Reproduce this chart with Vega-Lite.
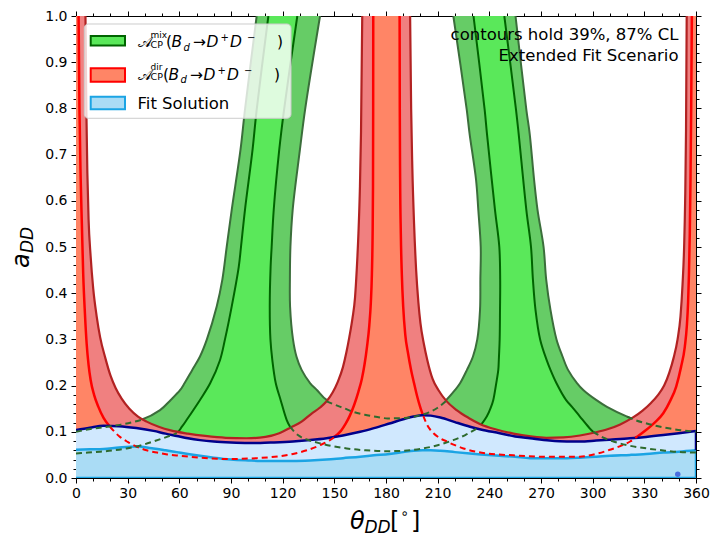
{
  "$schema": "https://vega.github.io/schema/vega-lite/v6.json",
  "width": 620,
  "height": 462,
  "autosize": "none",
  "padding": {"left": 76, "top": 16, "right": 25, "bottom": 67},
  "data": {"values": [{}]},
  "config": {
    "view": {"stroke": null},
    "text": {"font": "DejaVu Sans", "color": "black"},
    "axis": {"domainColor": "black", "tickColor": "black", "labelColor": "black", "labelFont": "DejaVu Sans", "labelFontSize": 14, "grid": false, "zindex": 1, "domainWidth": 1, "tickWidth": 1}
  },
  "resolve": {"axis": {"x": "independent", "y": "independent"}},
  "datasets": {
    "gOuter": [
      {"band": 1, "a": 0.08, "l": 0, "r": 165},
      {"band": 1, "a": 0.1, "l": 0, "r": 165},
      {"band": 1, "a": 0.107, "l": 10, "r": 165},
      {"band": 1, "a": 0.115, "l": 25.5, "r": 165},
      {"band": 1, "a": 0.126, "l": 38, "r": 165},
      {"band": 1, "a": 0.147, "l": 48.8, "r": 160},
      {"band": 1, "a": 0.169, "l": 55, "r": 145.5},
      {"band": 1, "a": 0.19, "l": 60.4, "r": 140},
      {"band": 1, "a": 0.205, "l": 63, "r": 136},
      {"band": 1, "a": 0.234, "l": 67.5, "r": 131},
      {"band": 1, "a": 0.263, "l": 72, "r": 128},
      {"band": 1, "a": 0.3, "l": 76, "r": 126},
      {"band": 1, "a": 0.371, "l": 81.7, "r": 124.3},
      {"band": 1, "a": 0.43, "l": 85, "r": 124.2},
      {"band": 1, "a": 0.5, "l": 87.5, "r": 124.5},
      {"band": 1, "a": 0.58, "l": 90.4, "r": 125.8},
      {"band": 1, "a": 0.71, "l": 95.5, "r": 130},
      {"band": 1, "a": 0.797, "l": 98.1, "r": 133},
      {"band": 1, "a": 1.0, "l": 104.9, "r": 141.7},
      {"band": 2, "a": 0.08, "l": 195, "r": 360},
      {"band": 2, "a": 0.1, "l": 195, "r": 358.6},
      {"band": 2, "a": 0.107, "l": 196, "r": 345},
      {"band": 2, "a": 0.118, "l": 197, "r": 331.4},
      {"band": 2, "a": 0.133, "l": 199, "r": 320},
      {"band": 2, "a": 0.154, "l": 210, "r": 308.3},
      {"band": 2, "a": 0.169, "l": 215, "r": 302},
      {"band": 2, "a": 0.19, "l": 220, "r": 294.7},
      {"band": 2, "a": 0.205, "l": 223, "r": 291},
      {"band": 2, "a": 0.234, "l": 227, "r": 285.7},
      {"band": 2, "a": 0.263, "l": 230.5, "r": 282.5},
      {"band": 2, "a": 0.3, "l": 233, "r": 279},
      {"band": 2, "a": 0.364, "l": 234.6, "r": 275.5},
      {"band": 2, "a": 0.43, "l": 234.8, "r": 273},
      {"band": 2, "a": 0.5, "l": 235, "r": 271.5},
      {"band": 2, "a": 0.58, "l": 233.6, "r": 268},
      {"band": 2, "a": 0.645, "l": 232.3, "r": 266},
      {"band": 2, "a": 0.746, "l": 228.5, "r": 263.4},
      {"band": 2, "a": 0.797, "l": 226.9, "r": 261.5},
      {"band": 2, "a": 1.0, "l": 219.1, "r": 255.2}
    ],
    "gInner": [
      {"band": 1, "a": 0.06, "l": 20, "r": 160},
      {"band": 1, "a": 0.079, "l": 44.9, "r": 141.7},
      {"band": 1, "a": 0.089, "l": 53, "r": 130},
      {"band": 1, "a": 0.097, "l": 58.5, "r": 127},
      {"band": 1, "a": 0.111, "l": 61.5, "r": 124.3},
      {"band": 1, "a": 0.126, "l": 64.3, "r": 122.3},
      {"band": 1, "a": 0.169, "l": 72, "r": 118.8},
      {"band": 1, "a": 0.205, "l": 77.9, "r": 116},
      {"band": 1, "a": 0.255, "l": 83.6, "r": 114},
      {"band": 1, "a": 0.3, "l": 86.5, "r": 112.9},
      {"band": 1, "a": 0.371, "l": 90.4, "r": 112.5},
      {"band": 1, "a": 0.457, "l": 94.5, "r": 113},
      {"band": 1, "a": 0.5, "l": 95.8, "r": 113.6},
      {"band": 1, "a": 0.58, "l": 98.1, "r": 114.8},
      {"band": 1, "a": 0.71, "l": 102.5, "r": 118},
      {"band": 1, "a": 0.797, "l": 104.9, "r": 120.8},
      {"band": 1, "a": 1.0, "l": 111.7, "r": 128.5},
      {"band": 2, "a": 0.05, "l": 200, "r": 360},
      {"band": 2, "a": 0.064, "l": 200, "r": 331.4},
      {"band": 2, "a": 0.079, "l": 219, "r": 312},
      {"band": 2, "a": 0.1, "l": 229, "r": 300.3},
      {"band": 2, "a": 0.111, "l": 234, "r": 297.5},
      {"band": 2, "a": 0.133, "l": 238.5, "r": 292.6},
      {"band": 2, "a": 0.154, "l": 241, "r": 288},
      {"band": 2, "a": 0.169, "l": 242.3, "r": 284.5},
      {"band": 2, "a": 0.205, "l": 244, "r": 279},
      {"band": 2, "a": 0.234, "l": 245.2, "r": 275.5},
      {"band": 2, "a": 0.255, "l": 245.5, "r": 273.3},
      {"band": 2, "a": 0.3, "l": 246, "r": 269.5},
      {"band": 2, "a": 0.364, "l": 246.2, "r": 266.8},
      {"band": 2, "a": 0.43, "l": 246.3, "r": 265.3},
      {"band": 2, "a": 0.5, "l": 245.8, "r": 264.2},
      {"band": 2, "a": 0.58, "l": 243.3, "r": 261.5},
      {"band": 2, "a": 0.746, "l": 238.6, "r": 257},
      {"band": 2, "a": 0.797, "l": 237.3, "r": 255.5},
      {"band": 2, "a": 1.0, "l": 230.8, "r": 248.7}
    ],
    "redOuter": [
      {"x": 0, "f": 1, "seg": "p"},
      {"x": 5.5, "f": 1, "seg": "u1"}, {"x": 6.0, "f": 0.8, "seg": "u1"}, {"x": 6.6, "f": 0.66, "seg": "u1"},
      {"x": 7.3, "f": 0.56, "seg": "u1"}, {"x": 8.5, "f": 0.48, "seg": "u1"}, {"x": 10, "f": 0.41, "seg": "u1"},
      {"x": 12, "f": 0.35, "seg": "u1"}, {"x": 14, "f": 0.305, "seg": "u1"}, {"x": 17, "f": 0.26, "seg": "u1"},
      {"x": 20, "f": 0.222, "seg": "u1"}, {"x": 23, "f": 0.195, "seg": "u1"}, {"x": 26.5, "f": 0.172, "seg": "u1"},
      {"x": 31, "f": 0.15, "seg": "u1"}, {"x": 36, "f": 0.133, "seg": "u1"}, {"x": 41, "f": 0.122, "seg": "u1"},
      {"x": 48, "f": 0.111, "seg": "u1"}, {"x": 55, "f": 0.103, "seg": "u1"}, {"x": 65, "f": 0.096, "seg": "u1"},
      {"x": 75, "f": 0.091, "seg": "u1"}, {"x": 87, "f": 0.087, "seg": "u1"}, {"x": 99, "f": 0.086, "seg": "u1"},
      {"x": 110, "f": 0.089, "seg": "u1"}, {"x": 118, "f": 0.097, "seg": "u1"}, {"x": 125, "f": 0.11, "seg": "u1"},
      {"x": 131, "f": 0.122, "seg": "u1"}, {"x": 137, "f": 0.14, "seg": "u1"}, {"x": 141.5, "f": 0.152, "seg": "u1"},
      {"x": 145.5, "f": 0.166, "seg": "u1"}, {"x": 149, "f": 0.185, "seg": "u1"}, {"x": 152, "f": 0.208, "seg": "u1"},
      {"x": 155, "f": 0.24, "seg": "u1"}, {"x": 157, "f": 0.272, "seg": "u1"}, {"x": 158.7, "f": 0.305, "seg": "u1"},
      {"x": 160.5, "f": 0.345, "seg": "u1"}, {"x": 162, "f": 0.39, "seg": "u1"}, {"x": 163, "f": 0.45, "seg": "u1"},
      {"x": 164, "f": 0.53, "seg": "u1"}, {"x": 164.8, "f": 0.62, "seg": "u1"}, {"x": 165.5, "f": 0.75, "seg": "u1"},
      {"x": 166.2, "f": 1, "seg": "u1"},
      {"x": 194, "f": 1, "seg": "u2"}, {"x": 194.6, "f": 0.8, "seg": "u2"}, {"x": 195.3, "f": 0.67, "seg": "u2"},
      {"x": 196.3, "f": 0.55, "seg": "u2"}, {"x": 197.5, "f": 0.45, "seg": "u2"}, {"x": 198.8, "f": 0.38, "seg": "u2"},
      {"x": 200, "f": 0.335, "seg": "u2"}, {"x": 202, "f": 0.29, "seg": "u2"}, {"x": 204, "f": 0.255, "seg": "u2"},
      {"x": 207, "f": 0.215, "seg": "u2"}, {"x": 210.5, "f": 0.19, "seg": "u2"}, {"x": 215, "f": 0.167, "seg": "u2"},
      {"x": 221, "f": 0.147, "seg": "u2"}, {"x": 228, "f": 0.13, "seg": "u2"}, {"x": 234.5, "f": 0.117, "seg": "u2"},
      {"x": 244, "f": 0.105, "seg": "u2"}, {"x": 254, "f": 0.096, "seg": "u2"}, {"x": 264, "f": 0.09, "seg": "u2"},
      {"x": 273, "f": 0.087, "seg": "u2"}, {"x": 283, "f": 0.088, "seg": "u2"}, {"x": 292.6, "f": 0.092, "seg": "u2"},
      {"x": 302, "f": 0.099, "seg": "u2"}, {"x": 309, "f": 0.106, "seg": "u2"}, {"x": 316, "f": 0.116, "seg": "u2"},
      {"x": 323, "f": 0.13, "seg": "u2"}, {"x": 329, "f": 0.146, "seg": "u2"}, {"x": 334, "f": 0.163, "seg": "u2"},
      {"x": 338, "f": 0.18, "seg": "u2"}, {"x": 341.5, "f": 0.2, "seg": "u2"}, {"x": 344.5, "f": 0.228, "seg": "u2"},
      {"x": 347, "f": 0.26, "seg": "u2"}, {"x": 349.3, "f": 0.3, "seg": "u2"}, {"x": 351, "f": 0.35, "seg": "u2"},
      {"x": 352.2, "f": 0.42, "seg": "u2"}, {"x": 353.1, "f": 0.5, "seg": "u2"}, {"x": 353.7, "f": 0.6, "seg": "u2"},
      {"x": 354.2, "f": 0.75, "seg": "u2"}, {"x": 354.6, "f": 1, "seg": "u2"},
      {"x": 360, "f": 1, "seg": "p"}
    ],
    "redInner": [
      {"x": 0, "g": 1, "seg": "p"},
      {"x": 1.5, "g": 1, "seg": "i1"}, {"x": 2.0, "g": 0.8, "seg": "i1"}, {"x": 2.7, "g": 0.65, "seg": "i1"},
      {"x": 3.4, "g": 0.55, "seg": "i1"}, {"x": 4.2, "g": 0.44, "seg": "i1"}, {"x": 5.2, "g": 0.355, "seg": "i1"},
      {"x": 6.2, "g": 0.29, "seg": "i1"}, {"x": 7.3, "g": 0.245, "seg": "i1"}, {"x": 8.5, "g": 0.212, "seg": "i1"},
      {"x": 10.5, "g": 0.18, "seg": "i1"}, {"x": 13, "g": 0.154, "seg": "i1"}, {"x": 16, "g": 0.13, "seg": "i1"},
      {"x": 19.7, "g": 0.111, "seg": "i1"}, {"x": 25.5, "g": 0.089, "seg": "i1"}, {"x": 30, "g": 0.078, "seg": "i1"},
      {"x": 35.2, "g": 0.068, "seg": "i1"}, {"x": 41, "g": 0.06, "seg": "i1"}, {"x": 47, "g": 0.055, "seg": "i1"},
      {"x": 53, "g": 0.051, "seg": "i1"}, {"x": 60.4, "g": 0.048, "seg": "i1"}, {"x": 72, "g": 0.044, "seg": "i1"},
      {"x": 89.4, "g": 0.041, "seg": "i1"}, {"x": 105, "g": 0.043, "seg": "i1"}, {"x": 118, "g": 0.047, "seg": "i1"},
      {"x": 126, "g": 0.052, "seg": "i1"}, {"x": 134, "g": 0.06, "seg": "i1"}, {"x": 141.7, "g": 0.071, "seg": "i1"},
      {"x": 147, "g": 0.081, "seg": "i1"}, {"x": 151.4, "g": 0.093, "seg": "i1"}, {"x": 154, "g": 0.103, "seg": "i1"},
      {"x": 156.5, "g": 0.117, "seg": "i1"}, {"x": 159, "g": 0.135, "seg": "i1"}, {"x": 161.5, "g": 0.158, "seg": "i1"},
      {"x": 164, "g": 0.187, "seg": "i1"}, {"x": 166, "g": 0.215, "seg": "i1"}, {"x": 167.5, "g": 0.245, "seg": "i1"},
      {"x": 169, "g": 0.285, "seg": "i1"}, {"x": 170.3, "g": 0.33, "seg": "i1"}, {"x": 171.2, "g": 0.38, "seg": "i1"},
      {"x": 171.8, "g": 0.44, "seg": "i1"}, {"x": 172.2, "g": 0.52, "seg": "i1"}, {"x": 172.45, "g": 0.63, "seg": "i1"},
      {"x": 172.55, "g": 0.8, "seg": "i1"}, {"x": 172.6, "g": 1, "seg": "i1"},
      {"x": 187.9, "g": 1, "seg": "i2"}, {"x": 188.0, "g": 0.8, "seg": "i2"}, {"x": 188.2, "g": 0.65, "seg": "i2"},
      {"x": 188.6, "g": 0.53, "seg": "i2"}, {"x": 189.2, "g": 0.44, "seg": "i2"}, {"x": 190, "g": 0.37, "seg": "i2"},
      {"x": 191.2, "g": 0.31, "seg": "i2"}, {"x": 192.8, "g": 0.27, "seg": "i2"}, {"x": 194.5, "g": 0.235, "seg": "i2"},
      {"x": 196.3, "g": 0.205, "seg": "i2"}, {"x": 198, "g": 0.178, "seg": "i2"}, {"x": 200, "g": 0.152, "seg": "i2"},
      {"x": 201.7, "g": 0.134, "seg": "i2"}, {"x": 204, "g": 0.114, "seg": "i2"}, {"x": 207.6, "g": 0.097, "seg": "i2"},
      {"x": 211, "g": 0.087, "seg": "i2"}, {"x": 215.3, "g": 0.079, "seg": "i2"}, {"x": 220, "g": 0.071, "seg": "i2"},
      {"x": 225, "g": 0.064, "seg": "i2"}, {"x": 232, "g": 0.057, "seg": "i2"}, {"x": 239, "g": 0.053, "seg": "i2"},
      {"x": 254, "g": 0.049, "seg": "i2"}, {"x": 273, "g": 0.046, "seg": "i2"}, {"x": 292.6, "g": 0.046, "seg": "i2"},
      {"x": 297, "g": 0.048, "seg": "i2"}, {"x": 303, "g": 0.053, "seg": "i2"}, {"x": 310, "g": 0.061, "seg": "i2"},
      {"x": 316, "g": 0.069, "seg": "i2"}, {"x": 321.7, "g": 0.079, "seg": "i2"}, {"x": 326, "g": 0.09, "seg": "i2"},
      {"x": 331, "g": 0.104, "seg": "i2"}, {"x": 336, "g": 0.12, "seg": "i2"}, {"x": 341, "g": 0.14, "seg": "i2"},
      {"x": 345, "g": 0.167, "seg": "i2"}, {"x": 348.5, "g": 0.198, "seg": "i2"}, {"x": 351.3, "g": 0.24, "seg": "i2"},
      {"x": 353.5, "g": 0.284, "seg": "i2"}, {"x": 354.7, "g": 0.33, "seg": "i2"}, {"x": 355.4, "g": 0.38, "seg": "i2"},
      {"x": 355.9, "g": 0.44, "seg": "i2"}, {"x": 356.4, "g": 0.53, "seg": "i2"}, {"x": 356.8, "g": 0.645, "seg": "i2"},
      {"x": 357.2, "g": 0.8, "seg": "i2"}, {"x": 357.6, "g": 1, "seg": "i2"},
      {"x": 360, "g": 1, "seg": "p"}
    ],
    "fit": [
      {"x": 0, "hi": 0.104, "lo": 0.061}, {"x": 8, "hi": 0.109, "lo": 0.062}, {"x": 16, "hi": 0.113, "lo": 0.063},
      {"x": 25, "hi": 0.112, "lo": 0.066}, {"x": 35, "hi": 0.108, "lo": 0.068}, {"x": 45, "hi": 0.102, "lo": 0.064},
      {"x": 52, "hi": 0.096, "lo": 0.06}, {"x": 58.5, "hi": 0.091, "lo": 0.056}, {"x": 65, "hi": 0.086, "lo": 0.052},
      {"x": 72, "hi": 0.082, "lo": 0.048}, {"x": 80, "hi": 0.079, "lo": 0.044}, {"x": 90, "hi": 0.077, "lo": 0.04},
      {"x": 100, "hi": 0.076, "lo": 0.038}, {"x": 107, "hi": 0.076, "lo": 0.037}, {"x": 115, "hi": 0.077, "lo": 0.037},
      {"x": 126, "hi": 0.079, "lo": 0.037}, {"x": 136, "hi": 0.082, "lo": 0.038}, {"x": 145.5, "hi": 0.086, "lo": 0.04},
      {"x": 155, "hi": 0.092, "lo": 0.043}, {"x": 165, "hi": 0.1, "lo": 0.046}, {"x": 173, "hi": 0.108, "lo": 0.049},
      {"x": 182, "hi": 0.118, "lo": 0.052}, {"x": 190, "hi": 0.127, "lo": 0.056}, {"x": 196, "hi": 0.133, "lo": 0.059},
      {"x": 201, "hi": 0.136, "lo": 0.06}, {"x": 206, "hi": 0.135, "lo": 0.06}, {"x": 211.6, "hi": 0.131, "lo": 0.059},
      {"x": 220, "hi": 0.121, "lo": 0.056}, {"x": 228.8, "hi": 0.111, "lo": 0.053}, {"x": 235, "hi": 0.105, "lo": 0.051},
      {"x": 246, "hi": 0.097, "lo": 0.048}, {"x": 255, "hi": 0.09, "lo": 0.046}, {"x": 263.6, "hi": 0.086, "lo": 0.043},
      {"x": 275, "hi": 0.081, "lo": 0.043}, {"x": 285, "hi": 0.079, "lo": 0.043}, {"x": 292.6, "hi": 0.079, "lo": 0.044},
      {"x": 302, "hi": 0.081, "lo": 0.046}, {"x": 310, "hi": 0.083, "lo": 0.048}, {"x": 321.7, "hi": 0.086, "lo": 0.05},
      {"x": 331, "hi": 0.089, "lo": 0.052}, {"x": 341, "hi": 0.093, "lo": 0.055}, {"x": 350, "hi": 0.097, "lo": 0.057},
      {"x": 360, "hi": 0.102, "lo": 0.06}
    ],
    "gDash": [
      {"seg": "A", "x": 0, "a": 0.1}, {"seg": "A", "x": 10, "a": 0.107}, {"seg": "A", "x": 18, "a": 0.111},
      {"seg": "A", "x": 25.5, "a": 0.115}, {"seg": "A", "x": 32, "a": 0.12}, {"seg": "A", "x": 38, "a": 0.126},
      {"seg": "B", "x": 0, "a": 0.053}, {"seg": "B", "x": 7, "a": 0.055}, {"seg": "B", "x": 13.9, "a": 0.057},
      {"seg": "B", "x": 22, "a": 0.06}, {"seg": "B", "x": 29.4, "a": 0.064}, {"seg": "B", "x": 37, "a": 0.07},
      {"seg": "B", "x": 44.9, "a": 0.079}, {"seg": "B", "x": 52, "a": 0.088}, {"seg": "B", "x": 58.5, "a": 0.097},
      {"seg": "C", "x": 145.5, "a": 0.166}, {"seg": "C", "x": 150, "a": 0.159}, {"seg": "C", "x": 155, "a": 0.152},
      {"seg": "C", "x": 161, "a": 0.143}, {"seg": "C", "x": 169, "a": 0.136}, {"seg": "C", "x": 175, "a": 0.132},
      {"seg": "C", "x": 181, "a": 0.129}, {"seg": "C", "x": 191, "a": 0.13}, {"seg": "C", "x": 200, "a": 0.136},
      {"seg": "C", "x": 205, "a": 0.142}, {"seg": "C", "x": 210, "a": 0.152}, {"seg": "C", "x": 215, "a": 0.167},
      {"seg": "D", "x": 124.3, "a": 0.111}, {"seg": "D", "x": 127, "a": 0.099}, {"seg": "D", "x": 130, "a": 0.09},
      {"seg": "D", "x": 135, "a": 0.082}, {"seg": "D", "x": 141.7, "a": 0.075}, {"seg": "D", "x": 149, "a": 0.069},
      {"seg": "D", "x": 157.2, "a": 0.064}, {"seg": "D", "x": 168, "a": 0.06}, {"seg": "D", "x": 180.4, "a": 0.058},
      {"seg": "D", "x": 190, "a": 0.059}, {"seg": "D", "x": 200, "a": 0.063}, {"seg": "D", "x": 210, "a": 0.071},
      {"seg": "D", "x": 219, "a": 0.082}, {"seg": "D", "x": 226, "a": 0.093}, {"seg": "D", "x": 232.7, "a": 0.107},
      {"seg": "E", "x": 320, "a": 0.133}, {"seg": "E", "x": 325, "a": 0.125}, {"seg": "E", "x": 331.4, "a": 0.118},
      {"seg": "E", "x": 338, "a": 0.112}, {"seg": "E", "x": 345, "a": 0.107}, {"seg": "E", "x": 352, "a": 0.103},
      {"seg": "E", "x": 360, "a": 0.1},
      {"seg": "F", "x": 300.3, "a": 0.1}, {"seg": "F", "x": 303, "a": 0.094}, {"seg": "F", "x": 307, "a": 0.086},
      {"seg": "F", "x": 312, "a": 0.079}, {"seg": "F", "x": 320, "a": 0.071}, {"seg": "F", "x": 331.4, "a": 0.064},
      {"seg": "F", "x": 340, "a": 0.06}, {"seg": "F", "x": 347, "a": 0.057}, {"seg": "F", "x": 360, "a": 0.055}
    ],
    "best": [{"x": 349.4, "a": 0.008}]
  },
  "layer": [
    {
      "data": {"name": "gOuter"},
      "mark": {"type": "area", "orient": "horizontal", "fill": "#66cc66", "interpolate": "catmull-rom", "clip": true},
      "encoding": {
        "y": {"field": "a", "type": "quantitative", "scale": {"domain": [0, 1], "nice": false}, "axis": null},
        "x": {"field": "l", "type": "quantitative", "scale": {"domain": [0, 360], "nice": false}, "axis": null},
        "x2": {"field": "r"},
        "detail": {"field": "band"}
      }
    },
    {
      "data": {"name": "gOuter"},
      "transform": [{"fold": ["l", "r"], "as": ["side", "xv"]}],
      "mark": {"type": "line", "color": "#3b6e3b", "strokeWidth": 2, "interpolate": "catmull-rom", "clip": true},
      "encoding": {
        "x": {"field": "xv", "type": "quantitative", "axis": null},
        "y": {"field": "a", "type": "quantitative", "axis": null},
        "detail": [{"field": "band"}, {"field": "side"}],
        "order": {"field": "a"}
      }
    },
    {
      "data": {"name": "gInner"},
      "mark": {"type": "area", "orient": "horizontal", "fill": "#5ae85a", "interpolate": "catmull-rom", "clip": true},
      "encoding": {
        "y": {"field": "a", "type": "quantitative", "axis": null},
        "x": {"field": "l", "type": "quantitative", "axis": null},
        "x2": {"field": "r"},
        "detail": {"field": "band"}
      }
    },
    {
      "data": {"name": "gInner"},
      "transform": [{"fold": ["l", "r"], "as": ["side", "xv"]}],
      "mark": {"type": "line", "color": "#006400", "strokeWidth": 2, "interpolate": "catmull-rom", "clip": true},
      "encoding": {
        "x": {"field": "xv", "type": "quantitative", "axis": null},
        "y": {"field": "a", "type": "quantitative", "axis": null},
        "detail": [{"field": "band"}, {"field": "side"}],
        "order": {"field": "a"}
      }
    },
    {
      "data": {"name": "redOuter"},
      "mark": {"type": "area", "fill": "#f08080", "interpolate": "monotone", "clip": true},
      "encoding": {
        "x": {"field": "x", "type": "quantitative", "axis": {"orient": "bottom", "values": [0, 30, 60, 90, 120, 150, 180, 210, 240, 270, 300, 330, 360], "title": null, "tickSize": 5, "labelPadding": 3, "labelFlush": false, "labelOverlap": false, "labelBound": false}},
        "y": {"field": "f", "type": "quantitative", "axis": {"orient": "left", "values": [0, 0.1, 0.2, 0.3, 0.4, 0.5, 0.6, 0.7, 0.8, 0.9, 1], "format": ".1f", "title": null, "tickSize": 5, "labelPadding": 4, "labelFlush": false, "labelOverlap": false}}
      }
    },
    {
      "data": {"name": "redOuter"},
      "transform": [{"filter": "datum.seg != 'p'"}],
      "mark": {"type": "line", "color": "#b22222", "strokeWidth": 2.2, "interpolate": "monotone", "clip": true},
      "encoding": {
        "x": {"field": "x", "type": "quantitative", "axis": null},
        "y": {"field": "f", "type": "quantitative", "axis": null},
        "detail": {"field": "seg"}
      }
    },
    {
      "data": {"name": "redInner"},
      "mark": {"type": "area", "fill": "#ff8566", "interpolate": "monotone", "clip": true},
      "encoding": {
        "x": {"field": "x", "type": "quantitative", "axis": {"orient": "bottom", "values": [10, 20, 40, 50, 70, 80, 100, 110, 130, 140, 160, 170, 190, 200, 220, 230, 250, 260, 280, 290, 310, 320, 340, 350], "title": null, "tickSize": 3, "labels": false, "domain": false}},
        "y": {"field": "g", "type": "quantitative", "axis": {"orient": "left", "values": [0.02, 0.04, 0.06, 0.08, 0.12, 0.14, 0.16, 0.18, 0.22, 0.24, 0.26, 0.28, 0.32, 0.34, 0.36, 0.38, 0.42, 0.44, 0.46, 0.48, 0.52, 0.54, 0.56, 0.58, 0.62, 0.64, 0.66, 0.68, 0.72, 0.74, 0.76, 0.78, 0.82, 0.84, 0.86, 0.88, 0.92, 0.94, 0.96, 0.98], "title": null, "tickSize": 3, "labels": false, "domain": false}}
      }
    },
    {
      "data": {"name": "redInner"},
      "transform": [{"filter": "datum.seg != 'p'"}],
      "mark": {"type": "line", "color": "#ff0000", "strokeWidth": 2.5, "interpolate": "monotone", "clip": true},
      "encoding": {
        "x": {"field": "x", "type": "quantitative", "axis": null},
        "y": {"field": "g", "type": "quantitative", "axis": null},
        "detail": {"field": "seg"}
      }
    },
    {
      "data": {"name": "fit"},
      "mark": {"type": "area", "fill": "#d0e8fe", "interpolate": "monotone", "clip": true},
      "encoding": {
        "x": {"field": "x", "type": "quantitative", "axis": {"orient": "top", "values": [0, 30, 60, 90, 120, 150, 180, 210, 240, 270, 300, 330, 360], "title": null, "tickSize": 5, "labels": false}},
        "y": {"field": "hi", "type": "quantitative", "axis": {"orient": "right", "values": [0, 0.1, 0.2, 0.3, 0.4, 0.5, 0.6, 0.7, 0.8, 0.9, 1], "title": null, "tickSize": 5, "labels": false}}
      }
    },
    {
      "data": {"name": "fit"},
      "mark": {"type": "area", "fill": "#aadcf5", "interpolate": "monotone", "clip": true},
      "encoding": {
        "x": {"field": "x", "type": "quantitative", "axis": {"orient": "top", "values": [10, 20, 40, 50, 70, 80, 100, 110, 130, 140, 160, 170, 190, 200, 220, 230, 250, 260, 280, 290, 310, 320, 340, 350], "title": null, "tickSize": 3, "labels": false, "domain": false}},
        "y": {"field": "lo", "type": "quantitative", "axis": {"orient": "right", "values": [0.02, 0.04, 0.06, 0.08, 0.12, 0.14, 0.16, 0.18, 0.22, 0.24, 0.26, 0.28, 0.32, 0.34, 0.36, 0.38, 0.42, 0.44, 0.46, 0.48, 0.52, 0.54, 0.56, 0.58, 0.62, 0.64, 0.66, 0.68, 0.72, 0.74, 0.76, 0.78, 0.82, 0.84, 0.86, 0.88, 0.92, 0.94, 0.96, 0.98], "title": null, "tickSize": 3, "labels": false, "domain": false}}
      }
    },
    {
      "data": {"name": "fit"},
      "mark": {"type": "line", "color": "#00008b", "strokeWidth": 2.5, "interpolate": "monotone", "clip": true},
      "encoding": {
        "x": {"field": "x", "type": "quantitative", "axis": null},
        "y": {"field": "hi", "type": "quantitative", "axis": null}
      }
    },
    {
      "data": {"name": "fit"},
      "mark": {"type": "line", "color": "#1ba4e4", "strokeWidth": 2.5, "interpolate": "monotone", "clip": true},
      "encoding": {
        "x": {"field": "x", "type": "quantitative", "axis": null},
        "y": {"field": "lo", "type": "quantitative", "axis": null}
      }
    },
    {
      "mark": {"type": "rule", "color": "#00008b", "strokeWidth": 2.5, "clip": true},
      "encoding": {
        "x": {"datum": 360, "type": "quantitative", "axis": null},
        "y": {"datum": 0.06, "type": "quantitative", "axis": null},
        "y2": {"datum": 0.102}
      }
    },
    {
      "mark": {"type": "rule", "color": "#1ba4e4", "strokeWidth": 2.5, "clip": true},
      "encoding": {
        "x": {"datum": 360, "type": "quantitative", "axis": null},
        "y": {"datum": 0, "type": "quantitative", "axis": null},
        "y2": {"datum": 0.06}
      }
    },
    {
      "mark": {"type": "rule", "color": "#1ba4e4", "strokeWidth": 2.5, "clip": true},
      "encoding": {
        "x": {"datum": 0, "type": "quantitative", "axis": null},
        "x2": {"datum": 360},
        "y": {"datum": 0, "type": "quantitative", "axis": null}
      }
    },
    {
      "data": {"name": "redInner"},
      "transform": [{"filter": "(datum.x >= 19.7 && datum.x <= 154) || (datum.x >= 201.7 && datum.x <= 326)"}],
      "mark": {"type": "line", "color": "#ff0000", "strokeWidth": 2, "strokeDash": [6, 4], "interpolate": "monotone", "clip": true},
      "encoding": {
        "x": {"field": "x", "type": "quantitative", "axis": null},
        "y": {"field": "g", "type": "quantitative", "axis": null},
        "detail": {"field": "seg"}
      }
    },
    {
      "data": {"name": "gDash"},
      "mark": {"type": "line", "color": "#2e6b2e", "strokeWidth": 2, "strokeDash": [6, 4], "interpolate": "monotone", "clip": true},
      "encoding": {
        "x": {"field": "x", "type": "quantitative", "axis": null},
        "y": {"field": "a", "type": "quantitative", "axis": null},
        "detail": {"field": "seg"}
      }
    },
    {
      "data": {"name": "best"},
      "mark": {"type": "point", "filled": true, "color": "#4a6ee0", "size": 30, "opacity": 1},
      "encoding": {
        "x": {"field": "x", "type": "quantitative", "axis": null},
        "y": {"field": "a", "type": "quantitative", "axis": null}
      }
    },
    {
      "mark": {"type": "rect", "fill": "white", "fillOpacity": 0.8, "stroke": "#cccccc", "strokeWidth": 1, "cornerRadius": 4},
      "encoding": {
        "x": {"datum": 4.82, "type": "quantitative", "axis": null},
        "x2": {"datum": 124.84},
        "y": {"datum": 0.9827, "type": "quantitative", "axis": null},
        "y2": {"datum": 0.7786}
      }
    },
    {
      "mark": {"type": "rect", "fill": "#5ae85a", "stroke": "#006400", "strokeWidth": 2},
      "encoding": {
        "x": {"datum": 8.54, "type": "quantitative", "axis": null},
        "x2": {"datum": 28.45},
        "y": {"datum": 0.9567, "type": "quantitative", "axis": null},
        "y2": {"datum": 0.9361}
      }
    },
    {
      "mark": {"type": "rect", "fill": "#ff8566", "stroke": "#ff0000", "strokeWidth": 2},
      "encoding": {
        "x": {"datum": 8.54, "type": "quantitative", "axis": null},
        "x2": {"datum": 28.45},
        "y": {"datum": 0.8868, "type": "quantitative", "axis": null},
        "y2": {"datum": 0.8578}
      }
    },
    {
      "mark": {"type": "rect", "fill": "#aadcf5", "stroke": "#1ba4e4", "strokeWidth": 2},
      "encoding": {
        "x": {"datum": 8.54, "type": "quantitative", "axis": null},
        "x2": {"datum": 28.45},
        "y": {"datum": 0.8253, "type": "quantitative", "axis": null},
        "y2": {"datum": 0.798}
      }
    },
    {"mark": {"type": "text", "text": "𝒜", "fontSize": 14.5, "align": "left", "baseline": "alphabetic"},
     "encoding": {"x": {"datum": 35.71, "type": "quantitative", "axis": null}, "y": {"datum": 0.93182, "type": "quantitative", "axis": null}}},
    {"mark": {"type": "text", "text": "mix", "fontSize": 9, "align": "left", "baseline": "alphabetic"},
     "encoding": {"x": {"datum": 43.26, "type": "quantitative", "axis": null}, "y": {"datum": 0.9524, "type": "quantitative", "axis": null}}},
    {"mark": {"type": "text", "text": "CP", "fontSize": 9.5, "align": "left", "baseline": "alphabetic"},
     "encoding": {"x": {"datum": 43.26, "type": "quantitative", "axis": null}, "y": {"datum": 0.9318, "type": "quantitative", "axis": null}}},
    {"mark": {"type": "text", "text": "(", "fontSize": 15.5, "align": "left", "baseline": "alphabetic"},
     "encoding": {"x": {"datum": 52.26, "type": "quantitative", "axis": null}, "y": {"datum": 0.93182, "type": "quantitative", "axis": null}}},
    {"mark": {"type": "text", "text": "B", "fontSize": 15.5, "fontStyle": "italic", "align": "left", "baseline": "alphabetic"},
     "encoding": {"x": {"datum": 55.45, "type": "quantitative", "axis": null}, "y": {"datum": 0.93182, "type": "quantitative", "axis": null}}},
    {"mark": {"type": "text", "text": "d", "fontSize": 10, "fontStyle": "italic", "align": "left", "baseline": "alphabetic"},
     "encoding": {"x": {"datum": 62.42, "type": "quantitative", "axis": null}, "y": {"datum": 0.92424, "type": "quantitative", "axis": null}}},
    {"mark": {"type": "text", "text": "→", "fontSize": 15.5, "align": "left", "baseline": "alphabetic"},
     "encoding": {"x": {"datum": 67.94, "type": "quantitative", "axis": null}, "y": {"datum": 0.93182, "type": "quantitative", "axis": null}}},
    {"mark": {"type": "text", "text": "D", "fontSize": 15.5, "fontStyle": "italic", "align": "left", "baseline": "alphabetic"},
     "encoding": {"x": {"datum": 75.77, "type": "quantitative", "axis": null}, "y": {"datum": 0.93182, "type": "quantitative", "axis": null}}},
    {"mark": {"type": "text", "text": "+", "fontSize": 10, "align": "left", "baseline": "alphabetic"},
     "encoding": {"x": {"datum": 83.9, "type": "quantitative", "axis": null}, "y": {"datum": 0.94481, "type": "quantitative", "axis": null}}},
    {"mark": {"type": "text", "text": "D", "fontSize": 15.5, "fontStyle": "italic", "align": "left", "baseline": "alphabetic"},
     "encoding": {"x": {"datum": 89.42, "type": "quantitative", "axis": null}, "y": {"datum": 0.93182, "type": "quantitative", "axis": null}}},
    {"mark": {"type": "text", "text": "−", "fontSize": 10, "align": "left", "baseline": "alphabetic"},
     "encoding": {"x": {"datum": 99.29, "type": "quantitative", "axis": null}, "y": {"datum": 0.94481, "type": "quantitative", "axis": null}}},
    {"mark": {"type": "text", "text": ")", "fontSize": 15.5, "align": "left", "baseline": "alphabetic"},
     "encoding": {"x": {"datum": 116.71, "type": "quantitative", "axis": null}, "y": {"datum": 0.93182, "type": "quantitative", "axis": null}}},
    {"mark": {"type": "text", "text": "𝒜", "fontSize": 14.5, "align": "left", "baseline": "alphabetic"},
     "encoding": {"x": {"datum": 35.71, "type": "quantitative", "axis": null}, "y": {"datum": 0.8619, "type": "quantitative", "axis": null}}},
    {"mark": {"type": "text", "text": "dir", "fontSize": 9, "align": "left", "baseline": "alphabetic"},
     "encoding": {"x": {"datum": 43.26, "type": "quantitative", "axis": null}, "y": {"datum": 0.8825, "type": "quantitative", "axis": null}}},
    {"mark": {"type": "text", "text": "CP", "fontSize": 9.5, "align": "left", "baseline": "alphabetic"},
     "encoding": {"x": {"datum": 43.26, "type": "quantitative", "axis": null}, "y": {"datum": 0.8619, "type": "quantitative", "axis": null}}},
    {"mark": {"type": "text", "text": "(", "fontSize": 15.5, "align": "left", "baseline": "alphabetic"},
     "encoding": {"x": {"datum": 50.52, "type": "quantitative", "axis": null}, "y": {"datum": 0.8619, "type": "quantitative", "axis": null}}},
    {"mark": {"type": "text", "text": "B", "fontSize": 15.5, "fontStyle": "italic", "align": "left", "baseline": "alphabetic"},
     "encoding": {"x": {"datum": 53.71, "type": "quantitative", "axis": null}, "y": {"datum": 0.8619, "type": "quantitative", "axis": null}}},
    {"mark": {"type": "text", "text": "d", "fontSize": 10, "fontStyle": "italic", "align": "left", "baseline": "alphabetic"},
     "encoding": {"x": {"datum": 60.68, "type": "quantitative", "axis": null}, "y": {"datum": 0.85433, "type": "quantitative", "axis": null}}},
    {"mark": {"type": "text", "text": "→", "fontSize": 15.5, "align": "left", "baseline": "alphabetic"},
     "encoding": {"x": {"datum": 66.2, "type": "quantitative", "axis": null}, "y": {"datum": 0.8619, "type": "quantitative", "axis": null}}},
    {"mark": {"type": "text", "text": "D", "fontSize": 15.5, "fontStyle": "italic", "align": "left", "baseline": "alphabetic"},
     "encoding": {"x": {"datum": 74.03, "type": "quantitative", "axis": null}, "y": {"datum": 0.8619, "type": "quantitative", "axis": null}}},
    {"mark": {"type": "text", "text": "+", "fontSize": 10, "align": "left", "baseline": "alphabetic"},
     "encoding": {"x": {"datum": 82.16, "type": "quantitative", "axis": null}, "y": {"datum": 0.87489, "type": "quantitative", "axis": null}}},
    {"mark": {"type": "text", "text": "D", "fontSize": 15.5, "fontStyle": "italic", "align": "left", "baseline": "alphabetic"},
     "encoding": {"x": {"datum": 87.68, "type": "quantitative", "axis": null}, "y": {"datum": 0.8619, "type": "quantitative", "axis": null}}},
    {"mark": {"type": "text", "text": "−", "fontSize": 10, "align": "left", "baseline": "alphabetic"},
     "encoding": {"x": {"datum": 97.55, "type": "quantitative", "axis": null}, "y": {"datum": 0.87489, "type": "quantitative", "axis": null}}},
    {"mark": {"type": "text", "text": ")", "fontSize": 15.5, "align": "left", "baseline": "alphabetic"},
     "encoding": {"x": {"datum": 114.97, "type": "quantitative", "axis": null}, "y": {"datum": 0.8619, "type": "quantitative", "axis": null}}},
    {"mark": {"type": "text", "text": "Fit Solution", "fontSize": 16.5, "align": "left", "baseline": "alphabetic"},
     "encoding": {"x": {"datum": 35.71, "type": "quantitative", "axis": null}, "y": {"datum": 0.7987, "type": "quantitative", "axis": null}}},
    {"mark": {"type": "text", "text": "contours hold 39%, 87% CL", "fontSize": 16.5, "align": "right", "baseline": "alphabetic"},
     "encoding": {"x": {"datum": 349.84, "type": "quantitative", "axis": null}, "y": {"datum": 0.94913, "type": "quantitative", "axis": null}}},
    {"mark": {"type": "text", "text": "Extended Fit Scenario", "fontSize": 16.5, "align": "right", "baseline": "alphabetic"},
     "encoding": {"x": {"datum": 349.84, "type": "quantitative", "axis": null}, "y": {"datum": 0.90152, "type": "quantitative", "axis": null}}},
    {"mark": {"type": "text", "text": "θ", "fontSize": 24, "fontStyle": "italic", "align": "left", "baseline": "alphabetic"},
     "encoding": {"x": {"datum": 159.1, "type": "quantitative", "axis": null}, "y": {"datum": -0.1104, "type": "quantitative", "axis": null}}},
    {"mark": {"type": "text", "text": "DD", "fontSize": 17, "fontStyle": "italic", "align": "left", "baseline": "alphabetic"},
     "encoding": {"x": {"datum": 167.5, "type": "quantitative", "axis": null}, "y": {"datum": -0.119, "type": "quantitative", "axis": null}}},
    {"mark": {"type": "text", "text": "[", "fontSize": 24, "align": "left", "baseline": "alphabetic"},
     "encoding": {"x": {"datum": 182.3, "type": "quantitative", "axis": null}, "y": {"datum": -0.1104, "type": "quantitative", "axis": null}}},
    {"mark": {"type": "text", "text": "∘", "fontSize": 14, "align": "left", "baseline": "alphabetic"},
     "encoding": {"x": {"datum": 188.3, "type": "quantitative", "axis": null}, "y": {"datum": -0.0866, "type": "quantitative", "axis": null}}},
    {"mark": {"type": "text", "text": "]", "fontSize": 24, "align": "left", "baseline": "alphabetic"},
     "encoding": {"x": {"datum": 194.5, "type": "quantitative", "axis": null}, "y": {"datum": -0.1104, "type": "quantitative", "axis": null}}},
    {"mark": {"type": "text", "text": "a", "fontSize": 24, "fontStyle": "italic", "angle": 270, "align": "left", "baseline": "alphabetic"},
     "encoding": {"x": {"datum": -27.3, "type": "quantitative", "axis": null}, "y": {"datum": 0.4545, "type": "quantitative", "axis": null}}},
    {"mark": {"type": "text", "text": "DD", "fontSize": 17, "fontStyle": "italic", "angle": 270, "align": "left", "baseline": "alphabetic"},
     "encoding": {"x": {"datum": -24.97, "type": "quantitative", "axis": null}, "y": {"datum": 0.487, "type": "quantitative", "axis": null}}}
  ]
}
